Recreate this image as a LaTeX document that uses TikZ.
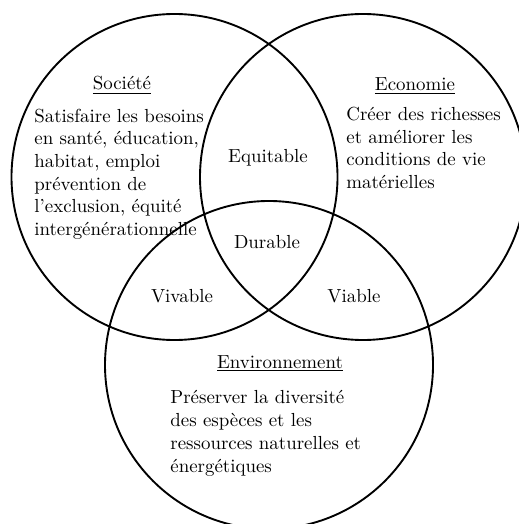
\documentclass[tikz,border=0pt]{standalone}
\usepackage{fontspec}
\begin{document}
\begin{tikzpicture}[x=0.529pt, y=-0.529pt,
  ring/.style={draw=black, line width=1pt},
  title/.style={anchor=base, inner sep=0pt},
  zone/.style={anchor=base, inner sep=0pt},
  % base of a multi-line node sits on its last line
  body/.style={anchor=base west, align=left, inner sep=0pt}]
  \useasboundingbox (0,0) rectangle (518,524);
  % the three spheres of sustainable development
  \coordinate (cSoc) at (174.5,177);
  \coordinate (cEco) at (363,177);
  \coordinate (cEnv) at (269,365);
  \draw[ring] (cSoc) circle (163);
  \draw[ring] (cEco) circle (163);
  \draw[ring] (cEnv) circle (164);
  % headings
  \node[title] (tSoc) at (122,90) {\underline{Société}};
  \node[title] (tEco) at (415,91) {\underline{Economie}};
  \node[title] (tEnv) at (280,368) {\underline{Environnement}};
  % descriptions
  \node[body] (dSoc) at (34,235.5) {Satisfaire les besoins\\en santé, éducation,\\habitat, emploi\\prévention de\\l’exclusion, équité\\intergénérationnelle};
  \node[body] (dEco) at (346,188.6) {Créer des richesses\\et améliorer les\\conditions de vie\\matérielles};
  \node[body] (dEnv) at (170,472) {Préserver la diversité\\des espèces et les\\ressources naturelles et\\énergétiques};
  % overlaps
  \node[zone] (zEqu) at (268,163) {Equitable};
  \node[zone] (zDur) at (267,249) {Durable};
  \node[zone] (zViv) at (182,302) {Vivable};
  \node[zone] (zVia) at (354,302) {Viable};
\end{tikzpicture}
\end{document}
